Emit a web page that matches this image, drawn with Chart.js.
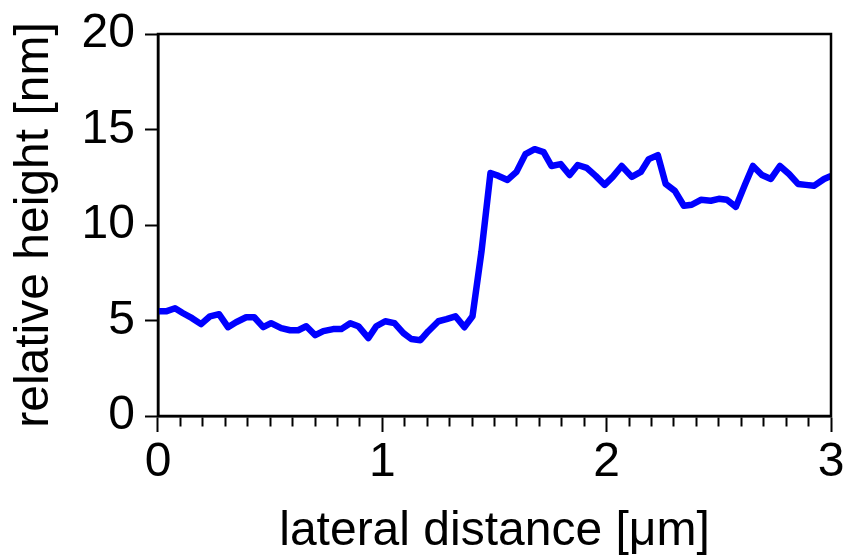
<!DOCTYPE html>
<html>
<head>
<meta charset="utf-8">
<script src="https://cdn.jsdelivr.net/npm/chart.js@4.4.1/dist/chart.umd.min.js"></script>
<style>
  html, body { margin: 0; padding: 0; background: #fff; }
  canvas { display: block; }
</style>
</head>
<body>
<canvas id="chart" width="853" height="556"></canvas>
<script>
// profile: lateral distance [µm] vs relative height [nm]
const distanceUm = [
  0.000, 0.036, 0.076, 0.112, 0.152, 0.192, 0.232, 0.272, 0.312, 0.348,
  0.393, 0.429, 0.469, 0.504, 0.549, 0.589, 0.625, 0.661, 0.701, 0.737,
  0.781, 0.817, 0.857, 0.893, 0.938, 0.973, 1.013, 1.054, 1.094, 1.129,
  1.170, 1.205, 1.250, 1.286, 1.326, 1.366, 1.402, 1.442, 1.482, 1.518,
  1.558, 1.598, 1.638, 1.679, 1.719, 1.754, 1.795, 1.835, 1.871, 1.911,
  1.951, 1.991, 2.027, 2.067, 2.112, 2.152, 2.188, 2.228, 2.263, 2.304,
  2.344, 2.379, 2.420, 2.464, 2.500, 2.536, 2.576, 2.616, 2.652, 2.692,
  2.732, 2.772, 2.813, 2.853, 2.888, 2.924, 2.969, 3.000
];
const heightNm = [
  5.48, 5.48, 5.64, 5.38, 5.12, 4.81, 5.22, 5.33, 4.65, 4.91,
  5.17, 5.17, 4.65, 4.86, 4.60, 4.49, 4.49, 4.70, 4.23, 4.44,
  4.55, 4.55, 4.86, 4.70, 4.08, 4.70, 4.96, 4.86, 4.34, 4.03,
  3.97, 4.44, 4.96, 5.07, 5.22, 4.65, 5.22, 8.61, 12.72, 12.57,
  12.36, 12.78, 13.71, 13.97, 13.82, 13.09, 13.19, 12.62, 13.14, 12.99,
  12.57, 12.10, 12.52, 13.09, 12.52, 12.78, 13.45, 13.66, 12.15, 11.79,
  11.01, 11.06, 11.32, 11.27, 11.37, 11.32, 10.95, 12.10, 13.09, 12.62,
  12.41, 13.09, 12.67, 12.15, 12.10, 12.05, 12.41, 12.57
];
const yTicks = [0, 5, 10, 15, 20];

const fontFamily = 'Arial, "Liberation Sans", Helvetica, sans-serif';

const frame = {
  id: 'frame',
  afterDraw(chart) {
    const { ctx, chartArea: a } = chart;
    ctx.save();
    ctx.strokeStyle = '#000';
    ctx.lineWidth = 2.5;
    ctx.strokeRect(a.left, a.top, a.right - a.left, a.bottom - a.top);
    ctx.restore();
  }
};

const isMajor = v => Math.abs(v - Math.round(v)) < 1e-6;

new Chart(document.getElementById('chart'), {
  type: 'line',
  data: {
    datasets: [{
      data: distanceUm.map((x, i) => ({ x, y: heightNm[i] })),
      borderColor: '#0000ff',
      borderWidth: 6.5,
      borderJoinStyle: 'round',
      pointRadius: 0,
      tension: 0,
      fill: false
    }]
  },
  options: {
    responsive: false,
    animation: false,
    layout: { padding: { left: 0, right: 22, top: 22, bottom: 0 } },
    plugins: { legend: { display: false }, tooltip: { enabled: false } },
    scales: {
      x: {
        type: 'linear',
        min: 0,
        max: 3,
        border: { color: '#000', width: 2.5 },
        grid: {
          drawOnChartArea: false,
          tickLength: 16,
          tickColor: '#000',
          tickWidth: 2,
          tickBorderDash: c => (isMajor(c.tick.value) ? [] : [9, 100])
        },
        ticks: {
          stepSize: 0.1,
          autoSkip: false,
          maxRotation: 0,
          padding: 7,
          color: '#000',
          font: { family: fontFamily, size: 48, lineHeight: 1 },
          callback: v => (isMajor(v) ? String(Math.round(v)) : '')
        },
        title: {
          display: true,
          text: 'lateral distance [μm]',
          color: '#000',
          font: { family: fontFamily, size: 48, lineHeight: 1 },
          padding: { top: 14, bottom: 0 }
        }
      },
      y: {
        min: 0,
        max: 20,
        border: { color: '#000', width: 2.5 },
        grid: {
          drawOnChartArea: false,
          tickLength: 13,
          tickColor: '#000',
          tickWidth: 2
        },
        afterBuildTicks: scale => { scale.ticks = yTicks.map(value => ({ value })); },
        ticks: {
          padding: 10,
          color: '#000',
          font: { family: fontFamily, size: 48, lineHeight: 1 }
        },
        title: {
          display: true,
          text: 'relative height [nm]',
          color: '#000',
          font: { family: fontFamily, size: 48 },
          padding: { top: 6, bottom: 8 }
        }
      }
    }
  },
  plugins: [frame]
});
</script>
</body>
</html>
